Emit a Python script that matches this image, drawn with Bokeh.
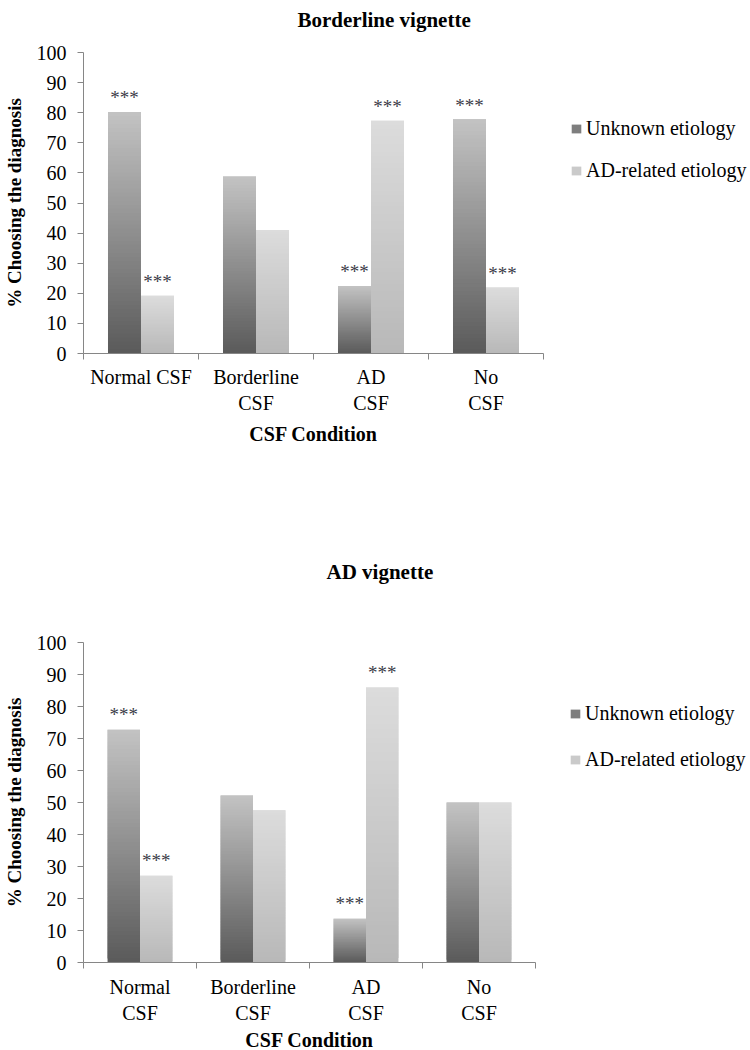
from bokeh.plotting import figure
from bokeh.layouts import column
from bokeh.models import Range1d, FixedTicker, Legend, LegendItem, ColumnDataSource, Title
from bokeh.core.properties import value
from bokeh.embed import file_html
from bokeh.resources import INLINE

# ---------------- data ----------------
series_names = ["Unknown etiology", "AD-related etiology"]
top_categories = ["Normal CSF", "Borderline\nCSF", "AD\nCSF", "No\nCSF"]
bottom_categories = ["Normal\nCSF", "Borderline\nCSF", "AD\nCSF", "No\nCSF"]

borderline_unknown = [80.2, 58.8, 22.4, 77.8]
borderline_ad = [19.2, 41.0, 77.3, 21.9]
borderline_unknown_sig = [True, False, True, True]
borderline_ad_sig = [True, False, True, True]

ad_unknown = [72.7, 52.2, 13.7, 50.0]
ad_ad = [27.1, 47.6, 85.9, 50.0]
ad_unknown_sig = [True, False, True, False]
ad_ad_sig = [True, False, True, False]

y_ticks = list(range(0, 101, 10))

FONT = "Liberation Serif"
AXIS_COLOR = "#868686"


def hex_rgb(h):
    h = h.lstrip("#")
    return tuple(int(h[i:i + 2], 16) for i in (0, 2, 4))


def mix(c0, c1, t):
    a, b = hex_rgb(c0), hex_rgb(c1)
    return "#%02x%02x%02x" % tuple(int(round(a[i] + (b[i] - a[i]) * t)) for i in range(3))


def gradient_source(xcenters, vals, c_bottom, c_top, n=60):
    # each bar is split into n overlapping horizontal slices whose colour
    # runs from c_bottom to c_top, to imitate the gradient fill
    xs, bottoms, tops, colors = [], [], [], []
    for xc, v in zip(xcenters, vals):
        for k in range(n):
            xs.append(xc)
            bottoms.append(v * k / n)
            tops.append(min(v, v * (k + 2) / n))
            colors.append(mix(c_bottom, c_top, (k + 0.5) / n))
    return ColumnDataSource(dict(x=xs, bottom=bottoms, top=tops, color=colors)), n


def make_chart(title, cats, unknown, ad, sig_u, sig_a, g):
    p = figure(frame_width=g["fw"], frame_height=g["fh"],
               min_border_left=g["left"], min_border_right=g["right"],
               min_border_top=g["top"], min_border_bottom=g["bottom"],
               x_range=Range1d(0, 4), y_range=Range1d(0, 100),
               title_location=None,
               output_backend="svg", toolbar_location=None)
    p.outline_line_color = None
    p.xgrid.visible = False
    p.ygrid.visible = False
    p.background_fill_color = "white"
    p.border_fill_color = "white"

    # spacer between the frame and the title, then the title itself
    p.add_layout(Title(text=" ", text_font_size="1px", standoff=g["title_gap"]), "above")
    p.add_layout(Title(text=title, align="left", offset=g["title_offset"],
                       text_font=FONT, text_font_size="21px", text_font_style="bold",
                       text_color="black"), "above")

    bw = 0.287
    centers = [i + 0.5 for i in range(len(cats))]
    xu = [c - bw / 2 for c in centers]
    xa = [c + bw / 2 for c in centers]

    su, n = gradient_source(xu, unknown, "#5a5a5a", "#c3c3c3")
    sa, _ = gradient_source(xa, ad, "#b8b8b8", "#dcdcdc")
    ru = p.vbar(x="x", bottom="bottom", top="top", width=bw, source=su,
                fill_color="color", line_color=None)
    ra = p.vbar(x="x", bottom="bottom", top="top", width=bw, source=sa,
                fill_color="color", line_color=None)

    # significance stars
    sx, sy = [], []
    for x, v, s in zip(xu, unknown, sig_u):
        if s:
            sx.append(x); sy.append(v + 4.7)
    for x, v, s in zip(xa, ad, sig_a):
        if s:
            sx.append(x); sy.append(v + 4.7)
    p.text(x=sx, y=sy, text=["***"] * len(sx), text_font=value(FONT),
           text_font_size="19px", text_align="center", text_baseline="alphabetic",
           text_color="#3c3c48")

    # y axis
    ya = p.yaxis[0]
    ya.ticker = FixedTicker(ticks=y_ticks)
    ya.axis_line_color = AXIS_COLOR
    ya.major_tick_line_color = AXIS_COLOR
    ya.minor_tick_line_color = None
    ya.major_tick_out = 6
    ya.major_tick_in = 0
    ya.major_label_standoff = 11
    ya.major_label_text_font = FONT
    ya.major_label_text_font_size = "20px"
    ya.major_label_text_color = "black"
    ya.axis_label = "% Choosing the diagnosis"
    ya.axis_label_text_font = FONT
    ya.axis_label_text_font_size = "19px"
    ya.axis_label_text_font_style = "bold"
    ya.axis_label_text_color = "black"
    ya.axis_label_standoff = 9

    # x axis
    xa_ax = p.xaxis[0]
    xa_ax.ticker = FixedTicker(ticks=centers, minor_ticks=list(range(len(cats) + 1)))
    xa_ax.major_label_overrides = {c: lab for c, lab in zip(centers, cats)}
    xa_ax.axis_line_color = AXIS_COLOR
    xa_ax.major_tick_line_color = None
    xa_ax.major_tick_out = 0
    xa_ax.major_tick_in = 0
    xa_ax.minor_tick_line_color = AXIS_COLOR
    xa_ax.minor_tick_out = 6
    xa_ax.minor_tick_in = 0
    xa_ax.major_label_standoff = g["xstand"]
    xa_ax.major_label_text_font = FONT
    xa_ax.major_label_text_font_size = "20px"
    xa_ax.major_label_text_color = "black"
    xa_ax.axis_label = "CSF Condition"
    xa_ax.axis_label_text_font = FONT
    xa_ax.axis_label_text_font_size = "20px"
    xa_ax.axis_label_text_font_style = "bold"
    xa_ax.axis_label_text_color = "black"
    xa_ax.axis_label_standoff = g["xlabstand"]

    legend = Legend(items=[LegendItem(label=series_names[0], renderers=[ru], index=n // 3),
                           LegendItem(label=series_names[1], renderers=[ra], index=n // 2)],
                    location=g["legend_loc"], padding=0, margin=0, spacing=g["legend_spacing"],
                    glyph_width=12, glyph_height=11, label_standoff=4,
                    label_text_font=FONT, label_text_font_size="20px",
                    label_text_color="black", border_line_color=None,
                    background_fill_alpha=0)
    p.add_layout(legend, "right")
    return p


top = make_chart("Borderline vignette", top_categories, borderline_unknown, borderline_ad,
                 borderline_unknown_sig, borderline_ad_sig,
                 dict(fw=460, fh=301, left=78, right=212, top=52, bottom=155,
                      title_offset=214, title_gap=13, xstand=6, xlabstand=6,
                      legend_loc=(27, 171), legend_spacing=19))
bottom = make_chart("AD vignette", bottom_categories, ad_unknown, ad_ad,
                    ad_unknown_sig, ad_ad_sig,
                    dict(fw=452, fh=320, left=77, right=221, top=134, bottom=88,
                         title_offset=243, title_gap=51, xstand=7, xlabstand=2,
                         legend_loc=(34, 191), legend_spacing=23))

layout = column(top, bottom, spacing=0)
open("out.html", "w").write(file_html(layout, INLINE))
